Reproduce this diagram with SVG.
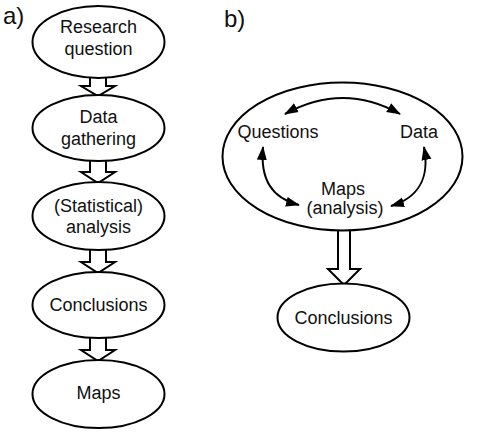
<svg xmlns="http://www.w3.org/2000/svg" width="479" height="434" viewBox="0 0 479 434">
<style>
.n{fill:#fff;stroke:#000;stroke-width:2}
.a{fill:#fff;stroke:#000;stroke-width:2;stroke-linejoin:miter}
.c{fill:none;stroke:#000;stroke-width:2}
text{font-family:"Liberation Sans",Arial,sans-serif;font-size:18px;fill:#111;text-anchor:middle}
.lab{font-size:24px;text-anchor:start}
</style>
<defs>
<marker id="h" markerUnits="userSpaceOnUse" markerWidth="15" markerHeight="12" refX="13" refY="6" orient="auto-start-reverse">
<path d="M0,1 L14,6 L0,11 z" fill="#000"/>
</marker>
</defs>
<rect width="479" height="434" fill="#fff"/>
<text class="lab" x="3" y="24">a)</text>
<text class="lab" x="224" y="27">b)</text>
<g id="connectors">
<polygon class="a" points="90,70 90,86 81,86 98,96 115,86 106,86 106,70"/>
<polygon class="a" points="90,155 90,172 81,172 98,183 115,172 106,172 106,155"/>
<polygon class="a" points="90,244 90,262 81,262 98,273 115,262 106,262 106,244"/>
<polygon class="a" points="90,332 90,350 81,350 98,361 115,350 106,350 106,332"/>
<polygon class="a" points="338,222 338,269 328,269 344,285 360,269 350,269 350,222"/>
</g>
<g id="n1"><ellipse class="n" cx="98.5" cy="42" rx="66" ry="36"/><text x="98.5" y="33">Research</text><text x="98.5" y="55">question</text></g>
<g id="n2"><ellipse class="n" cx="98.5" cy="128" rx="66" ry="33"/><text x="98.5" y="123">Data</text><text x="98.5" y="145">gathering</text></g>
<g id="n3"><ellipse class="n" cx="98.5" cy="216" rx="66" ry="34"/><text x="98.5" y="212">(Statistical)</text><text x="98.5" y="233">analysis</text></g>
<g id="n4"><ellipse class="n" cx="98.5" cy="305" rx="66" ry="33"/><text x="98.5" y="311">Conclusions</text></g>
<g id="n5"><ellipse class="n" cx="98.5" cy="394" rx="66" ry="34"/><text x="98.5" y="399">Maps</text></g>
<g id="cycle"><ellipse class="n" cx="342.5" cy="156.5" rx="120" ry="74"/>
<text x="278" y="138">Questions</text>
<text x="419" y="138">Data</text>
<text x="343" y="195">Maps</text>
<text x="345" y="214">(analysis)</text>
</g>
<g id="cycle-connectors">
<path class="c" d="M285,114 Q343,82 400,114" marker-start="url(#h)" marker-end="url(#h)"/>
<path class="c" d="M263,147 C260,180 272,198 299,205" marker-start="url(#h)" marker-end="url(#h)"/>
<path class="c" d="M424,147 C430,178 418,198 391,206" marker-start="url(#h)" marker-end="url(#h)"/>
</g>
<g id="n6"><ellipse class="n" cx="343.5" cy="317.5" rx="66" ry="34"/><text x="343.5" y="324">Conclusions</text></g>
</svg>
